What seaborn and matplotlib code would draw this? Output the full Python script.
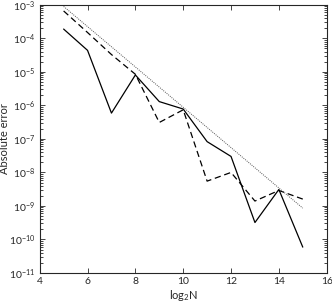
"""Absolute error vs log2 N, log-scale error plot."""

import matplotlib
matplotlib.use('Agg')
import matplotlib.pyplot as plt
import seaborn as sns
import numpy as np
import pandas as pd

sns.set_style('ticks')
plt.rcParams['font.family'] = ['Lato', 'DejaVu Sans']
plt.rcParams['mathtext.fontset'] = 'custom'
plt.rcParams['mathtext.rm'] = 'Lato'
plt.rcParams['mathtext.it'] = 'Lato'

log2_n = [5, 6, 7, 8, 9, 10, 11, 12, 13, 14, 15]
err_solid = [1.9e-4, 4.4e-5, 5.9e-7, 8.1e-6, 1.3e-6, 7.8e-7, 8.3e-8, 3.0e-8, 3.2e-10, 3.1e-9, 5.9e-11]
err_dashed = [6.6e-4, 1.5e-4, 3.3e-5, 8.5e-6, 3.1e-7, 7.4e-7, 5.5e-9, 1.0e-8, 1.4e-9, 2.9e-9, 1.6e-9]
ref_x = [5, 15]
ref_y = [9.0e-4, 8.6e-10]

x_ticks = [4, 6, 8, 10, 12, 14, 16]
y_ticks = [1e-11, 1e-10, 1e-9, 1e-8, 1e-7, 1e-6, 1e-5, 1e-4, 1e-3]

df = pd.DataFrame({
    'log2N': log2_n * 2,
    'err': err_solid + err_dashed,
    'scheme': ['a'] * len(log2_n) + ['b'] * len(log2_n),
})

fig = plt.figure(figsize=(3.32, 3.06), dpi=100)
ax = fig.add_axes([0.1196, 0.108, 0.8644, 0.876])

sns.lineplot(data=df, x='log2N', y='err', style='scheme',
             dashes={'a': '', 'b': (5, 3)}, color='black',
             linewidth=0.9, legend=False, ax=ax)
sns.lineplot(x=ref_x, y=ref_y, color='#555555', linewidth=0.7,
             linestyle=(0, (1, 1.2)), ax=ax)

ax.set_yscale('log')
ax.set_xlim(4, 16)
ax.set_ylim(1e-11, 1e-3)
ax.set_xticks(x_ticks)
ax.set_yticks(y_ticks)
ax.yaxis.set_minor_locator(matplotlib.ticker.LogLocator(base=10, subs=np.arange(2, 10), numticks=20))
ax.yaxis.set_minor_formatter(matplotlib.ticker.NullFormatter())
ax.tick_params(which='both', direction='in', top=True, right=True, labelsize=7.5,
               width=0.6, pad=3)
ax.tick_params(which='major', length=3.5)
ax.tick_params(which='minor', length=2)
for s in ax.spines.values():
    s.set_linewidth(0.8)

ax.set_xlabel('log$_2$N', fontsize=8, labelpad=1)
ax.set_ylabel('Absolute error', fontsize=8)
ax.yaxis.set_label_coords(-0.105, 0.5)

plt.savefig('out.png', dpi=100)
plt.close()
